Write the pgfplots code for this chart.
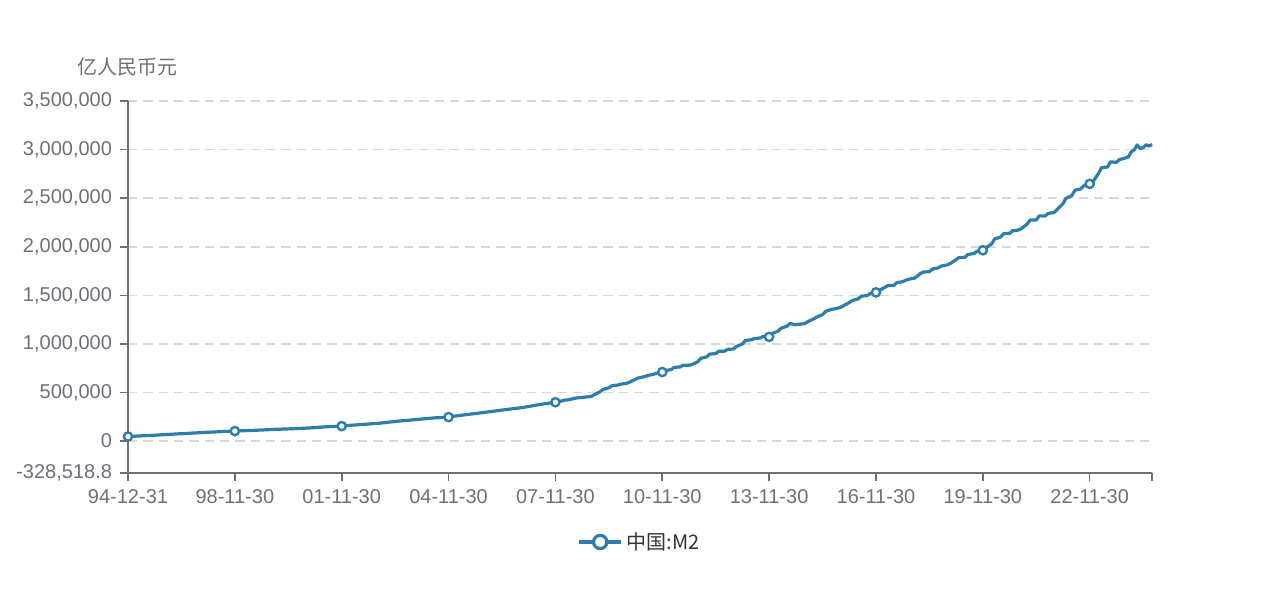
\documentclass[border=0pt]{standalone}
\usepackage{pgfplots}
\pgfplotsset{compat=1.18}
\usepackage{pgfplotstable}
\usepackage{fontspec}
\setmainfont{Liberation Sans}
\newfontfamily\cjk{Noto Sans CJK SC}
\definecolor{axisgrey}{HTML}{6E7079}
\definecolor{gridgrey}{RGB}{214,216,220}
\definecolor{lineblue}{RGB}{45,126,170}
\definecolor{legtext}{HTML}{333333}

\pgfplotstableread{
idx val
0 46923
9 60750
18 76095
27 90995
36 103000
37 104499
43 111000
49 119898
55 126600
61 134610
67 147800
72 154000
73 158302
79 170900
85 185007
91 204900
97 221223
103 238400
108 247000
109 253208
115 275800
121 298756
127 322800
133 345578
139 377800
144 399757
145 403442
147 421000
148 423054
150 436200
151 443141
153 448800
154 452898
156 458600
157 475166
159 506700
160 530627
162 548300
163 568916
165 576700
166 585405
168 594600
169 606225
171 636100
172 649947
174 663400
175 673921
177 687500
178 696471
180 710339
181 725852
183 736100
184 758131
186 763400
187 780821
189 780900
190 787406
192 816800
193 851591
195 867200
196 895565
198 900000
199 924991
201 924900
202 943688
204 947300
205 974149
207 998600
208 1035859
210 1042200
211 1054404
213 1061300
214 1077379
216 1071961
217 1106525
219 1131800
220 1160687
222 1182300
223 1209588
225 1197500
226 1202051
228 1208600
229 1228375
231 1257400
232 1275332
234 1301700
235 1333375
237 1356700
238 1359824
240 1374900
241 1392278
243 1424600
244 1446198
246 1463600
247 1490492
249 1497800
250 1516360
252 1530440
253 1550067
255 1581900
256 1599609
258 1601400
259 1631282
261 1640000
262 1655700
264 1672700
265 1676768
267 1724900
268 1739859
270 1743100
271 1770179
273 1783200
274 1801665
276 1812900
277 1826744
279 1867400
280 1889412
282 1891500
283 1921000
285 1930000
286 1952250
288 1964000
289 1986488
291 2030800
292 2080900
294 2100200
295 2134900
297 2136000
298 2164100
300 2172100
301 2186800
303 2236000
304 2276000
306 2275500
307 2317800
309 2317000
310 2342800
312 2352400
313 2382900
315 2443000
316 2497700
318 2527000
319 2581500
321 2595000
322 2626700
324 2647000
325 2664300
327 2755300
328 2814600
330 2820500
331 2873000
333 2869400
334 2896700
336 2912900
337 2922700
338 2976600
339 2997000
340 3047900
341 3010000
342 3020000
343 3050000
344 3036000
345 3053000
}\mtwo

\pgfplotstableread{
idx val
0 46923
36 103000
72 154000
108 247000
144 399757
180 710339
216 1071961
252 1530440
288 1964000
324 2647000
}\mtwomarks

\begin{document}
\begin{tikzpicture}
\path[use as bounding box] (-96pt,-89.25pt) rectangle (864pt,354.75pt);
\begin{axis}[
  at={(0pt,0pt)}, anchor=south west,
  scale only axis,
  width=768pt, height=279pt,
  xmin=0, xmax=345,
  ymin=-328518.8, ymax=3500000,
  axis lines*=left,
  axis line style={axisgrey, line width=1.2pt},
  tick style={axisgrey, line width=1.2pt},
  tick align=outside,
  major tick length=6pt,
  xtick={0,36,72,108,144,180,216,252,288,324},
  xticklabels={94-12-31,98-11-30,01-11-30,04-11-30,07-11-30,10-11-30,13-11-30,16-11-30,19-11-30,22-11-30},
  extra x ticks={345},
  extra x tick labels={},
  ytick={-328518.8,0,500000,1000000,1500000,2000000,2500000,3000000,3500000},
  yticklabels={{-328,518.8},0,{500,000},{1,000,000},{1,500,000},{2,000,000},{2,500,000},{3,000,000},{3,500,000}},
  scaled y ticks=false,
  /pgf/number format/assume math mode=true,
  ymajorgrids=true,
  major grid style={gridgrey, line width=1.2pt, dash pattern=on 7pt off 4.5pt},
  tick label style={axisgrey, font=\fontsize{15pt}{17pt}\selectfont},
  yticklabel style={anchor=east, xshift=-2.5pt},
  xticklabel style={anchor=north, yshift=-3pt},
  clip=false,
  legend style={at={(0.5,-0.1855)}, anchor=center, draw=none, fill=none,
    font=\fontsize{15pt}{17pt}\selectfont\color{legtext}, inner sep=0pt,
    /tikz/every even column/.append style={column sep=0pt}},
  legend image code/.code={
    \draw[lineblue, line width=2.4pt] (-6pt,0pt) -- (25.5pt,0pt);
    \draw[lineblue, line width=2.4pt, fill=white] (9.75pt,0pt) circle (5pt);
  },
]
\addplot[lineblue, line width=2.4pt, line join=round, mark=none] table[x=idx, y=val] {\mtwo};
\addlegendentry{\hspace*{1pt}\cjk 中国:M2}
\addplot[forget plot, only marks, mark=*, mark size=3.1pt,
  mark options={draw=lineblue, fill=white, line width=1.8pt}] table[x=idx, y=val] {\mtwomarks};
\node[axisgrey, font=\cjk\fontsize{15pt}{17pt}\selectfont] at (rel axis cs:0,1) [yshift=25.5pt] {亿人民币元};
\end{axis}
\end{tikzpicture}
\end{document}
